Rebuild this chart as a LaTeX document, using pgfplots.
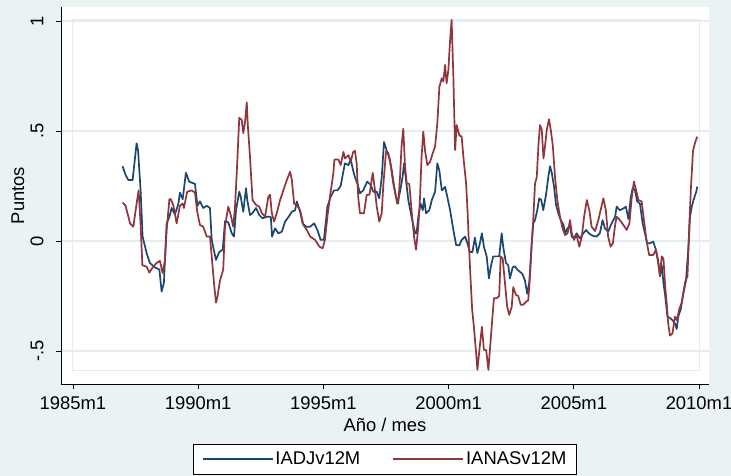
\documentclass[border=0pt]{standalone}
\usepackage{pgfplots}
\pgfplotsset{compat=1.18}
\usepackage{fontspec}
\setmainfont{Liberation Sans}
\definecolor{bgc}{RGB}{234,242,243}
\definecolor{gridc}{RGB}{228,237,240}
\definecolor{snavy}{RGB}{26,71,111}
\definecolor{smaroon}{RGB}{144,53,59}
\newcommand{\fs}{\fontsize{18.4pt}{22pt}\selectfont}
\begin{document}
\begin{tikzpicture}
\useasboundingbox (0,0) rectangle (731pt,476pt);
\fill[bgc] (0,0) rectangle (731pt,476pt);
\clip (0,0) rectangle (731pt,476pt);
\begin{axis}[
  at={(61pt,92pt)}, anchor=south west, scale only axis,
  width=648pt, height=377pt,
  xmin=1984.521, xmax=2010.399, ymin=-0.65, ymax=1.0636,
  axis x line*=bottom, axis y line*=left,
  axis line style={black, line width=0.8pt, -},
  axis background/.style={fill=white},
  tick align=outside, major tick length=5pt,
  tick style={black, line width=0.8pt},
  xtick={1985,1990,1995,2000,2005,2010},
  xticklabels={1985m1,1990m1,1995m1,2000m1,2005m1,2010m1},
  ytick={-0.5,0,0.5,1}, yticklabels={-.5,0,.5,1},
  ymajorgrids, grid style={gridc, line width=1.6pt},
  tick label style={font=\fs},
  yticklabel style={rotate=90, anchor=south},
  yticklabel shift=9pt, xticklabel shift=4pt,
  xlabel={Año / mes}, ylabel={Puntos},
  label style={font=\fs},
  xlabel style={at={(axis description cs:0.5,-0.1088)}, anchor=center},
  ylabel style={at={(axis description cs:-0.0664,0.5)}, anchor=center},
  legend columns=2,
  legend style={at={(axis description cs:0.5,-0.159)}, anchor=north,
    draw=black, fill=white, font=\fs,
    inner xsep=8pt, inner ysep=6pt,
    /tikz/every even column/.append style={column sep=30pt}},
  legend image code/.code={\draw[#1] (0pt,0pt) -- (70pt,0pt);},
  legend image post style={line width=1.8pt},
  every axis plot/.append style={line width=1.7pt, line join=round},
]
\draw[gridc, line width=1pt] (axis cs:1985,-0.59) rectangle (axis cs:2010,1.005);
\addplot[snavy] coordinates {
(1986.98,0.34) (1987.10,0.30) (1987.21,0.277) (1987.38,0.277) (1987.46,0.36) (1987.54,0.444)
(1987.60,0.41) (1987.70,0.23) (1987.78,0.02) (1987.94,-0.055) (1988.07,-0.10) (1988.27,-0.12)
(1988.45,-0.13) (1988.54,-0.23) (1988.63,-0.19) (1988.74,0.08) (1988.85,0.11) (1988.94,0.15)
(1989.07,0.12) (1989.21,0.17) (1989.27,0.22) (1989.38,0.19) (1989.51,0.31) (1989.64,0.27)
(1989.74,0.265) (1989.87,0.26) (1989.97,0.16) (1990.07,0.18) (1990.20,0.15) (1990.34,0.16)
(1990.47,0.15) (1990.54,0.005) (1990.71,-0.086) (1990.84,-0.05) (1990.98,-0.04) (1991.07,0.09)
(1991.20,0.085) (1991.34,0.035) (1991.43,0.02) (1991.51,0.14) (1991.64,0.224) (1991.70,0.20)
(1991.80,0.133) (1991.91,0.24) (1991.96,0.186) (1992.07,0.118) (1992.17,0.127) (1992.31,0.15)
(1992.44,0.118) (1992.57,0.103) (1992.74,0.11) (1992.90,0.11) (1992.95,0.02) (1993.07,0.058)
(1993.20,0.035) (1993.34,0.042) (1993.47,0.088) (1993.61,0.11) (1993.74,0.133) (1993.87,0.14)
(1993.94,0.18) (1994.07,0.133) (1994.17,0.08) (1994.31,0.065) (1994.47,0.065) (1994.63,0.08)
(1994.76,0.05) (1994.89,0.005) (1995.02,0.005) (1995.16,0.156) (1995.29,0.20) (1995.42,0.23)
(1995.56,0.23) (1995.69,0.25) (1995.77,0.30) (1995.86,0.353) (1996.00,0.345) (1996.09,0.37)
(1996.19,0.32) (1996.26,0.29) (1996.36,0.26) (1996.46,0.217) (1996.59,0.23) (1996.75,0.27)
(1996.89,0.255) (1996.99,0.224) (1997.13,0.224) (1997.23,0.194) (1997.33,0.29) (1997.42,0.45)
(1997.53,0.41) (1997.63,0.38) (1997.73,0.32) (1997.86,0.224) (1997.95,0.17) (1998.06,0.224)
(1998.16,0.29) (1998.22,0.353) (1998.30,0.276) (1998.39,0.186) (1998.52,0.11) (1998.66,0.035)
(1998.72,0.035) (1998.79,0.11) (1998.88,0.17) (1998.97,0.14) (1999.02,0.194) (1999.10,0.126)
(1999.23,0.14) (1999.33,0.186) (1999.46,0.224) (1999.55,0.353) (1999.63,0.32) (1999.73,0.23)
(1999.86,0.246) (1999.95,0.20) (2000.06,0.14) (2000.19,0.05) (2000.30,-0.018) (2000.43,-0.02)
(2000.52,0.005) (2000.66,0.02) (2000.75,-0.01) (2000.85,-0.05) (2000.95,-0.05) (2001.05,0.015)
(2001.15,-0.055) (2001.25,-0.01) (2001.33,0.035) (2001.41,-0.026) (2001.52,-0.07) (2001.61,-0.17)
(2001.68,-0.12) (2001.78,-0.07) (2001.92,-0.07) (2002.02,-0.07) (2002.12,0.035) (2002.18,-0.026)
(2002.29,-0.10) (2002.38,-0.11) (2002.45,-0.17) (2002.56,-0.12) (2002.65,-0.115) (2002.74,-0.13)
(2002.85,-0.14) (2002.95,-0.15) (2003.05,-0.18) (2003.14,-0.24) (2003.22,-0.19) (2003.32,-0.01)
(2003.38,0.08) (2003.45,0.095) (2003.54,0.14) (2003.62,0.194) (2003.70,0.186) (2003.78,0.14)
(2003.89,0.21) (2003.98,0.29) (2004.05,0.34) (2004.12,0.31) (2004.21,0.247) (2004.29,0.164)
(2004.38,0.126) (2004.48,0.095) (2004.59,0.073) (2004.65,0.035) (2004.75,0.058) (2004.85,0.065)
(2004.92,0.02) (2005.01,0.012) (2005.11,0.035) (2005.25,0.012) (2005.38,0.035) (2005.49,0.05)
(2005.60,0.035) (2005.70,0.027) (2005.78,0.023) (2005.91,0.02) (2006.04,0.035) (2006.15,0.095)
(2006.24,0.058) (2006.37,0.042) (2006.51,0.08) (2006.65,0.11) (2006.71,0.156) (2006.84,0.14)
(2006.98,0.148) (2007.08,0.156) (2007.18,0.10) (2007.27,0.194) (2007.35,0.24) (2007.44,0.232)
(2007.53,0.18) (2007.64,0.17) (2007.75,0.08) (2007.84,0.035) (2007.93,-0.01) (2008.04,-0.01)
(2008.17,-0.003) (2008.28,-0.04) (2008.37,-0.09) (2008.44,-0.16) (2008.51,-0.11) (2008.58,-0.19)
(2008.65,-0.25) (2008.74,-0.344) (2008.84,-0.35) (2008.94,-0.36) (2009.04,-0.375) (2009.11,-0.40)
(2009.17,-0.344) (2009.27,-0.31) (2009.37,-0.24) (2009.48,-0.18) (2009.57,-0.04) (2009.64,0.11)
(2009.71,0.156) (2009.78,0.186) (2009.89,0.224) (2009.93,0.247)
};
\addlegendentry{IADJv12M}
\addplot[smaroon] coordinates {
(1986.98,0.175) (1987.10,0.16) (1987.28,0.08) (1987.41,0.065) (1987.54,0.17) (1987.62,0.23)
(1987.70,0.075) (1987.77,-0.11) (1987.94,-0.117) (1988.05,-0.144) (1988.18,-0.12) (1988.34,-0.10)
(1988.47,-0.09) (1988.58,-0.146) (1988.67,-0.09) (1988.74,0.05) (1988.85,0.19) (1988.91,0.19)
(1989.01,0.16) (1989.14,0.08) (1989.27,0.16) (1989.38,0.17) (1989.43,0.15) (1989.56,0.224)
(1989.74,0.23) (1989.87,0.22) (1989.97,0.127) (1990.07,0.073) (1990.20,0.065) (1990.34,0.02)
(1990.47,0.02) (1990.54,-0.07) (1990.63,-0.19) (1990.71,-0.28) (1990.76,-0.26) (1990.87,-0.18)
(1991.00,-0.13) (1991.07,0.065) (1991.20,0.156) (1991.30,0.118) (1991.40,0.065) (1991.47,0.156)
(1991.54,0.31) (1991.64,0.56) (1991.74,0.55) (1991.80,0.49) (1991.87,0.54) (1991.94,0.63)
(1991.98,0.53) (1992.07,0.38) (1992.17,0.186) (1992.31,0.164) (1992.44,0.156) (1992.54,0.127)
(1992.67,0.11) (1992.80,0.20) (1992.87,0.21) (1992.94,0.127) (1993.03,0.088) (1993.14,0.127)
(1993.27,0.186) (1993.40,0.23) (1993.54,0.277) (1993.67,0.315) (1993.74,0.277) (1993.83,0.17)
(1993.94,0.164) (1994.07,0.14) (1994.20,0.073) (1994.34,0.05) (1994.47,0.02) (1994.67,0.005)
(1994.84,-0.026) (1994.97,-0.033) (1995.06,0.005) (1995.16,0.11) (1995.26,0.20) (1995.40,0.31)
(1995.44,0.37) (1995.60,0.37) (1995.69,0.345) (1995.80,0.405) (1995.86,0.375) (1996.00,0.39)
(1996.09,0.36) (1996.19,0.405) (1996.26,0.41) (1996.33,0.35) (1996.39,0.20) (1996.46,0.126)
(1996.62,0.126) (1996.73,0.21) (1996.84,0.21) (1996.97,0.31) (1997.06,0.23) (1997.13,0.156)
(1997.23,0.088) (1997.33,0.126) (1997.39,0.25) (1997.50,0.406) (1997.59,0.40) (1997.69,0.345)
(1997.79,0.26) (1997.90,0.20) (1997.99,0.17) (1998.06,0.29) (1998.12,0.43) (1998.19,0.51)
(1998.26,0.34) (1998.33,0.26) (1998.43,0.26) (1998.52,0.14) (1998.62,0.02) (1998.70,-0.04)
(1998.79,0.065) (1998.86,0.20) (1998.92,0.383) (1998.99,0.497) (1999.06,0.41) (1999.15,0.345)
(1999.26,0.36) (1999.37,0.40) (1999.46,0.43) (1999.55,0.535) (1999.63,0.70) (1999.73,0.74)
(1999.79,0.725) (1999.86,0.80) (1999.92,0.717) (1999.99,0.777) (2000.06,0.914) (2000.12,1.005)
(2000.19,0.747) (2000.26,0.413) (2000.32,0.527) (2000.43,0.48) (2000.52,0.475) (2000.59,0.383)
(2000.70,0.26) (2000.76,0.126) (2000.83,-0.06) (2000.88,-0.18) (2000.94,-0.31) (2001.01,-0.39)
(2001.10,-0.51) (2001.15,-0.586) (2001.23,-0.495) (2001.33,-0.39) (2001.41,-0.495) (2001.50,-0.495)
(2001.59,-0.586) (2001.65,-0.495) (2001.72,-0.39) (2001.81,-0.26) (2001.92,-0.26) (2002.02,-0.25)
(2002.08,-0.07) (2002.16,-0.08) (2002.25,-0.19) (2002.34,-0.30) (2002.42,-0.336) (2002.52,-0.30)
(2002.58,-0.21) (2002.69,-0.245) (2002.78,-0.25) (2002.88,-0.29) (2002.98,-0.29) (2003.09,-0.276)
(2003.18,-0.27) (2003.25,-0.16) (2003.32,-0.01) (2003.38,0.095) (2003.45,0.26) (2003.52,0.29)
(2003.59,0.44) (2003.65,0.527) (2003.72,0.505) (2003.79,0.375) (2003.85,0.43) (2003.92,0.505)
(2004.01,0.553) (2004.08,0.505) (2004.16,0.436) (2004.25,0.29) (2004.34,0.186) (2004.45,0.11)
(2004.55,0.058) (2004.65,0.027) (2004.75,0.035) (2004.85,0.095) (2004.92,0.035) (2005.01,0.005)
(2005.11,0.027) (2005.22,-0.026) (2005.32,0.02) (2005.41,0.11) (2005.52,0.186) (2005.62,0.14)
(2005.71,0.065) (2005.85,0.045) (2005.98,0.095) (2006.07,0.14) (2006.18,0.194) (2006.28,0.14)
(2006.37,0.02) (2006.47,-0.026) (2006.56,-0.01) (2006.65,0.073) (2006.71,0.11) (2006.84,0.095)
(2006.98,0.073) (2007.11,0.05) (2007.22,0.08) (2007.31,0.194) (2007.40,0.27) (2007.49,0.23)
(2007.58,0.186) (2007.71,0.18) (2007.80,0.095) (2007.91,-0.003) (2008.01,-0.064) (2008.17,-0.064)
(2008.28,-0.04) (2008.37,-0.10) (2008.44,-0.16) (2008.51,-0.07) (2008.58,-0.08) (2008.65,-0.21)
(2008.70,-0.27) (2008.77,-0.375) (2008.84,-0.43) (2008.94,-0.42) (2009.04,-0.344) (2009.12,-0.36)
(2009.21,-0.31) (2009.31,-0.28) (2009.45,-0.185) (2009.54,-0.16) (2009.62,0.095) (2009.68,0.247)
(2009.76,0.41) (2009.85,0.45) (2009.93,0.474)
};
\addlegendentry{IANASv12M}
\end{axis}
\end{tikzpicture}
\end{document}
